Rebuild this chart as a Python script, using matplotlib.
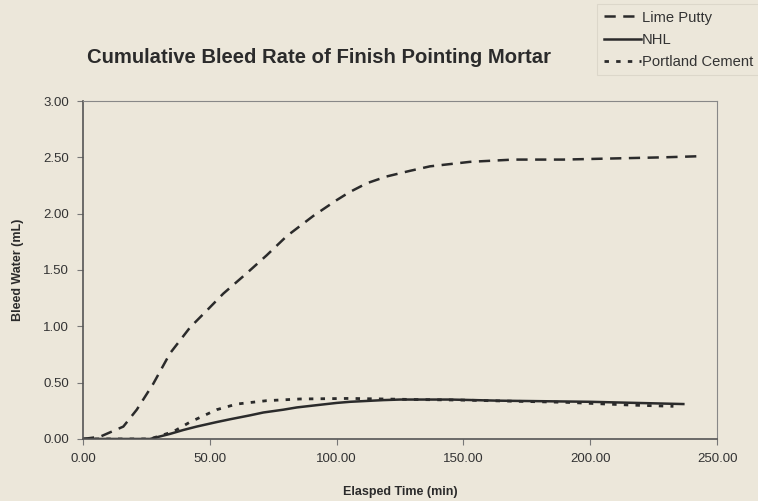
import numpy as np
import matplotlib
matplotlib.use('Agg')
import matplotlib.pyplot as plt

plt.rcParams['font.family'] = ['Liberation Sans', 'DejaVu Sans']

# elapsed time (min) and cumulative bleed water (mL) for each mortar
t_lime = [0, 6.7, 15.9, 21.2, 27.7, 34.3, 42.2, 48.8, 55.3, 64.5, 72.4, 80.3,
          90.8, 100.0, 105.0, 111.9, 119.7, 128.9, 136.8, 152.6, 169.7, 189.4,
          209.0, 228.8, 243.3]
v_lime = [0, 0.02, 0.11, 0.26, 0.49, 0.76, 0.99, 1.14, 1.29, 1.47, 1.63, 1.80,
          1.98, 2.12, 2.19, 2.27, 2.33, 2.38, 2.42, 2.46, 2.48, 2.48,
          2.49, 2.50, 2.51]

t_nhl = [0, 10, 20, 26.4, 34.3, 39.6, 44.8, 52.7, 58.0, 65.9, 71.1, 79.0,
         84.3, 92.1, 100.0, 105.3, 118.4, 125.0, 144.7, 164.0, 200.0, 236.7]
v_nhl = [0, 0, 0, 0.0, 0.045, 0.08, 0.11, 0.15, 0.175, 0.21, 0.235, 0.26,
         0.28, 0.30, 0.32, 0.33, 0.345, 0.35, 0.35, 0.34, 0.33, 0.31]

t_port = [0, 10, 20, 26.4, 35.6, 42.2, 52.7, 60.6, 72.4, 85.6, 105.3, 131.6,
          150.0, 170.0, 190.7, 217.0, 232.8]
v_port = [0, 0, 0, 0.0, 0.065, 0.15, 0.26, 0.31, 0.34, 0.355, 0.36, 0.35,
          0.345, 0.335, 0.325, 0.30, 0.29]

bg = '#ece7da'
ink = '#2b2b2b'

fig = plt.figure(figsize=(7.58, 5.01), dpi=100, facecolor=bg)
ax = fig.add_axes([0.1095, 0.1238, 0.8365, 0.6746], facecolor=bg)

l1, = ax.plot(t_lime, v_lime, color=ink, lw=1.8, dashes=(4.5, 3), label='Lime Putty')
l2, = ax.plot(t_nhl, v_nhl, color=ink, lw=1.8, label='NHL')
l3, = ax.plot(t_port, v_port, color=ink, lw=2.0, dashes=(1.6, 2.6), label='Portland Cement')

ax.set_xlim(0, 250)
ax.set_ylim(0, 3)
ax.set_xticks(np.arange(0, 251, 50))
ax.set_yticks(np.arange(0, 3.01, 0.5))
ax.xaxis.set_major_formatter(matplotlib.ticker.FormatStrFormatter('%.2f'))
ax.yaxis.set_major_formatter(matplotlib.ticker.FormatStrFormatter('%.2f'))
ax.tick_params(direction='out', length=4, width=0.8, color='#777777',
               labelsize=9.5, labelcolor='#333333', pad=6)

for side in ['left', 'bottom']:
    ax.spines[side].set_color('#555555')
    ax.spines[side].set_linewidth(1.2)
for side in ['top', 'right']:
    ax.spines[side].set_color('#888888')
    ax.spines[side].set_linewidth(0.8)

ax.set_xlabel('Elasped Time (min)', fontsize=9, fontweight='bold', color=ink, labelpad=15)
ax.set_ylabel('Bleed Water (mL)', fontsize=9, fontweight='bold', color=ink, labelpad=14)

fig.text(0.115, 0.886, 'Cumulative Bleed Rate of Finish Pointing Mortar',
         fontsize=14.6, fontweight='bold', color=ink, va='center', ha='left')

leg = fig.legend(handles=[l1, l2, l3], loc='upper left',
                 bbox_to_anchor=(597 / 758, 0.992), fontsize=10.6, frameon=True,
                 handlelength=2.55, handletextpad=0.05, labelspacing=0.55,
                 borderpad=0.45, borderaxespad=0, fancybox=False,
                 labelcolor='#333333')
leg.get_frame().set_facecolor(bg)
leg.get_frame().set_edgecolor('#d8d3c6')
leg.get_frame().set_linewidth(0.8)

fig.savefig('out.png', dpi=100, facecolor=bg)
